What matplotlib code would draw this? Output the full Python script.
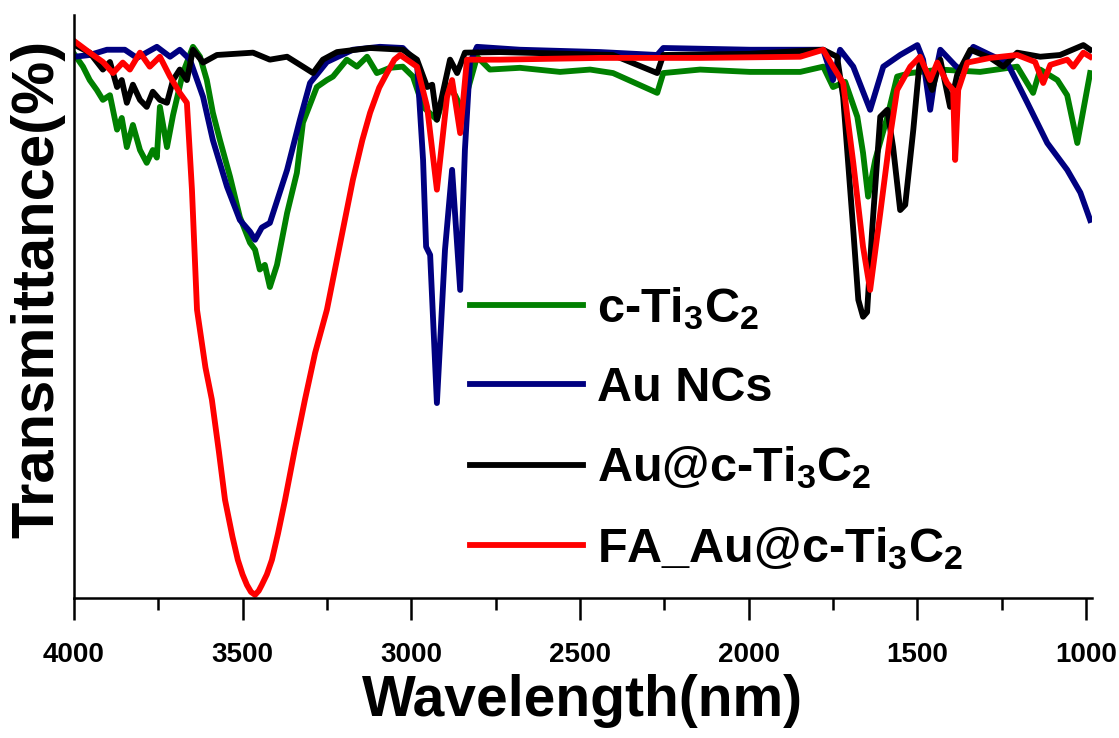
import matplotlib
matplotlib.use("Agg")
import matplotlib.pyplot as plt
from matplotlib.ticker import MultipleLocator

plt.rcParams['font.family'] = ['Liberation Sans', 'DejaVu Sans']
plt.rcParams['font.weight'] = 'bold'
plt.rcParams['mathtext.fontset'] = 'custom'
plt.rcParams['mathtext.bf'] = 'Liberation Sans:bold'
plt.rcParams['mathtext.rm'] = 'Liberation Sans:bold'
plt.rcParams['mathtext.default'] = 'bf'

# c-Ti3C2
wn_green = [3997, 3973, 3953, 3932, 3914, 3893, 3872, 3858, 3843, 3825, 3804, 3784, 3766, 3754,
            3745, 3724, 3706, 3677, 3647, 3626, 3606, 3588, 3567, 3537, 3508, 3478, 3463, 3449,
            3434, 3419, 3398, 3368, 3339, 3321, 3280, 3250, 3232, 3191, 3161, 3131, 3102, 3063,
            3025, 2995, 2965, 2924, 2894, 2870, 2849, 2805, 2767, 2678, 2559, 2470, 2402, 2271,
            2253, 2144, 1996, 1847, 1779, 1750, 1714, 1678, 1661, 1646, 1625, 1589, 1560, 1521,
            1432, 1314, 1204, 1157, 1136, 1085, 1056, 1026, 1008, 988]
t_green = [93.1, 91.1, 88.8, 87.1, 85.4, 86.2, 80.3, 82.3, 77.3, 81.1, 76.8, 74.6, 76.8, 75.5,
           84.2, 77.3, 82.8, 90.0, 94.5, 92.8, 88.8, 83.2, 78.5, 72.2, 65.3, 60.9, 59.7, 56.3,
           57.1, 53.3, 57.1, 66.0, 72.9, 81.5, 87.6, 88.8, 89.4, 92.3, 91.1, 92.8, 90.0, 90.9,
           91.1, 89.4, 84.2, 82.0, 87.9, 86.2, 83.7, 92.8, 90.6, 90.9, 90.2, 90.6, 90.0, 86.6,
           90.0, 90.6, 90.2, 90.2, 91.1, 87.6, 88.5, 82.5, 76.3, 68.8, 75.1, 82.5, 89.4, 90.0,
           90.6, 90.2, 91.1, 86.6, 90.6, 88.8, 86.2, 78.0, 83.7, 90.0]

# Au NCs
wn_blue = [3997, 3953, 3902, 3849, 3813, 3754, 3715, 3686, 3656, 3617, 3588, 3546, 3508, 3478,
           3463, 3443, 3419, 3368, 3330, 3300, 3250, 3173, 3093, 3025, 2983, 2965, 2956, 2944,
           2924, 2900, 2879, 2855, 2841, 2826, 2805, 2678, 2440, 2271, 2253, 1996, 1779, 1750,
           1729, 1690, 1640, 1601, 1551, 1500, 1483, 1462, 1447, 1432, 1388, 1373, 1334, 1284,
           1234, 1174, 1115, 1056, 1017, 988]
t_blue = [92.8, 93.1, 94.0, 94.0, 92.6, 94.5, 92.8, 94.0, 92.3, 85.9, 78.5, 70.5, 64.8, 62.8,
          61.4, 63.5, 64.3, 73.4, 82.0, 88.3, 91.9, 94.0, 94.5, 94.3, 91.8, 75.1, 60.2, 58.8,
          33.4, 59.7, 73.4, 52.8, 76.8, 91.8, 94.5, 94.0, 93.6, 93.1, 94.3, 94.0, 94.0, 88.8,
          94.0, 91.1, 83.7, 91.1, 93.1, 94.8, 92.3, 83.7, 89.7, 94.0, 91.3, 90.6, 94.5, 93.1,
          91.8, 84.9, 78.0, 73.4, 69.5, 64.8]

# Au@c-Ti3C2
wn_black = [3997, 3953, 3914, 3893, 3872, 3858, 3843, 3825, 3804, 3784, 3766, 3745, 3724, 3706,
            3686, 3665, 3647, 3617, 3576, 3469, 3419, 3368, 3321, 3291, 3262, 3220, 3122, 3025,
            2983, 2953, 2938, 2924, 2885, 2864, 2841, 2737, 2402, 2271, 2253, 1996, 1779, 1738,
            1720, 1690, 1675, 1661, 1649, 1634, 1610, 1589, 1572, 1551, 1536, 1512, 1492, 1456,
            1432, 1403, 1382, 1343, 1284, 1245, 1204, 1136, 1077, 1008, 988]
t_black = [94.8, 93.5, 90.6, 91.9, 87.6, 88.8, 84.9, 88.0, 85.4, 84.2, 86.8, 85.4, 84.9, 88.8,
           90.6, 88.8, 94.0, 91.8, 93.1, 93.5, 92.3, 92.8, 91.1, 90.0, 92.3, 93.6, 94.3, 94.0,
           92.3, 87.6, 88.0, 82.0, 92.3, 90.0, 93.5, 93.6, 93.1, 90.0, 93.1, 93.3, 94.0, 92.8,
           85.9, 63.1, 51.1, 48.2, 49.0, 63.1, 82.5, 83.7, 77.3, 66.5, 67.4, 80.3, 92.8, 87.1,
           92.3, 84.2, 89.7, 94.0, 92.6, 91.1, 93.5, 92.8, 93.1, 94.8, 94.0]

# FA_Au@c-Ti3C2
wn_red = [3997, 3953, 3914, 3884, 3855, 3834, 3804, 3775, 3745, 3715, 3686, 3665, 3650, 3635,
          3610, 3591, 3570, 3552, 3530, 3514, 3500, 3487, 3475, 3463, 3452, 3443, 3428, 3413,
          3395, 3374, 3345, 3315, 3285, 3250, 3210, 3173, 3145, 3122, 3095, 3072, 3050, 3033,
          2983, 2953, 2924, 2894, 2879, 2855, 2835, 2737, 2440, 2144, 1847, 1779, 1750, 1720,
          1690, 1661, 1640, 1610, 1581, 1560, 1521, 1492, 1462, 1441, 1412, 1394, 1388, 1379,
          1352, 1284, 1204, 1151, 1127, 1106, 1056, 1038, 1008, 988]
t_red = [95.4, 93.5, 91.9, 90.0, 91.8, 90.6, 93.5, 91.1, 92.8, 89.4, 86.6, 84.9, 70.0, 49.4,
         39.5, 34.0, 25.0, 16.8, 10.5, 6.5, 4.0, 2.2, 1.0, 0.5, 1.2, 2.2, 4.0, 6.5,
         11.0, 16.8, 25.5, 34.0, 42.0, 49.4, 61.0, 71.7, 78.5, 83.2, 87.5, 90.0, 92.3, 93.1,
         91.1, 84.2, 70.0, 85.9, 88.8, 79.7, 92.3, 92.3, 92.6, 92.6, 92.8, 94.0, 91.1, 88.3,
         74.6, 60.2, 52.8, 66.0, 79.1, 87.1, 91.1, 92.8, 88.8, 91.8, 88.3, 87.1, 75.1, 87.1,
         91.8, 92.6, 93.1, 91.9, 88.3, 91.4, 92.3, 91.1, 93.5, 92.8]

labels = ['c-Ti$_3$C$_2$', 'Au NCs', 'Au@c-Ti$_3$C$_2$', 'FA_Au@c-Ti$_3$C$_2$']

fig = plt.figure(figsize=(11.19, 7.38), dpi=100)
ax = fig.add_axes([0.066, 0.19, 0.91, 0.79])

ax.plot(wn_green, t_green, color='#008000', lw=4.2, label=labels[0])
ax.plot(wn_blue, t_blue, color='#000080', lw=4.2, label=labels[1])
ax.plot(wn_black, t_black, color='black', lw=4.2, label=labels[2])
ax.plot(wn_red, t_red, color='#ff0000', lw=4.2, label=labels[3])

ax.set_xlim(4000, 982)
ax.set_ylim(0, 100)
ax.xaxis.set_major_locator(MultipleLocator(500))
ax.xaxis.set_minor_locator(MultipleLocator(250))
ax.set_yticks([])
ax.spines['top'].set_visible(False)
ax.spines['right'].set_visible(False)
ax.spines['left'].set_linewidth(1.8)
ax.spines['bottom'].set_linewidth(1.8)
ax.tick_params(axis='x', which='major', direction='out', length=16, width=1.8, pad=16, labelsize=20)
ax.tick_params(axis='x', which='minor', direction='out', length=8.5, width=1.8)

ax.set_xlabel('Wavelength(nm)', fontsize=41, fontweight='bold')
ax.xaxis.set_label_coords(0.5, -0.13)
ax.set_ylabel('Transmittance(%)', fontsize=43, fontweight='bold')
ax.yaxis.set_label_coords(-0.008, 0.53)

ax.legend(loc='center left', bbox_to_anchor=(0.389, 0.29), frameon=False,
          prop={'size': 35, 'weight': 'bold'}, handlelength=2.33, handletextpad=0.29,
          labelspacing=0.7, borderpad=0, borderaxespad=0)

fig.savefig('out.png', dpi=100)
